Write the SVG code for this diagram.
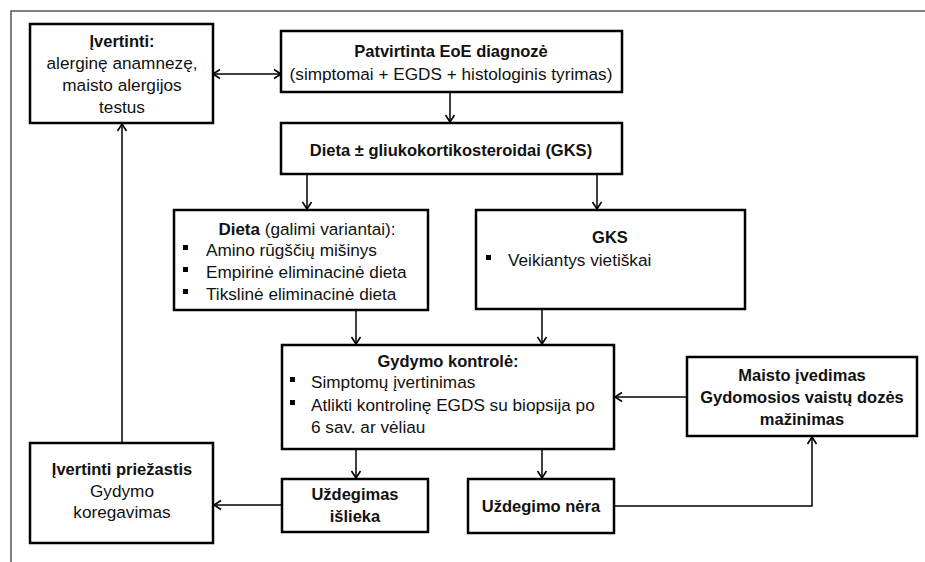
<svg xmlns="http://www.w3.org/2000/svg" width="925" height="562" viewBox="0 0 925 562">
<style>
.box{fill:#fff;stroke:#000;stroke-width:2.5}
.t{font-family:"Liberation Sans",Arial,sans-serif;font-size:17.2px;fill:#111}
.c{text-anchor:middle}
.b{font-weight:bold;font-size:16.5px}
tspan.b{font-size:17px}
.con{fill:none;stroke:#000;stroke-width:1.5}
.bul{fill:#000}
</style>
<defs>
<marker id="ah" markerUnits="userSpaceOnUse" markerWidth="12" markerHeight="12" refX="9" refY="5" orient="auto-start-reverse" viewBox="0 0 12 10">
<path d="M2,0.5 L9,5 L2,9.5" fill="none" stroke="#000" stroke-width="1.6"/>
</marker>
</defs>
<rect width="925" height="562" fill="#fff"/>
<path d="M11,562 V11 H925" fill="none" stroke="#555" stroke-width="1.5"/>

<g id="connectors">
<line class="con" x1="213" y1="74" x2="281" y2="74" marker-start="url(#ah)" marker-end="url(#ah)"/>
<line class="con" x1="450" y1="92" x2="450" y2="122" marker-end="url(#ah)"/>
<line class="con" x1="307" y1="174" x2="307" y2="209" marker-end="url(#ah)"/>
<line class="con" x1="597" y1="174" x2="597" y2="209" marker-end="url(#ah)"/>
<line class="con" x1="356" y1="310" x2="356" y2="344" marker-end="url(#ah)"/>
<line class="con" x1="542" y1="309" x2="542" y2="344" marker-end="url(#ah)"/>
<line class="con" x1="356" y1="449" x2="356" y2="478" marker-end="url(#ah)"/>
<line class="con" x1="542" y1="449" x2="542" y2="478" marker-end="url(#ah)"/>
<line class="con" x1="282" y1="505" x2="214" y2="505" marker-end="url(#ah)"/>
<polyline class="con" points="614,506 812,506 812,437" marker-end="url(#ah)"/>
<line class="con" x1="687" y1="397" x2="615" y2="397" marker-end="url(#ah)"/>
<line class="con" x1="122" y1="443" x2="122" y2="124" marker-end="url(#ah)"/>
</g>

<g id="n-ivertinti">
<rect class="box" x="30" y="24" width="183" height="99"/>
<text class="t c b" x="122" y="47">Įvertinti:</text>
<text class="t c" x="122" y="69">alerginę anamnezę,</text>
<text class="t c" x="122" y="91">maisto alergijos</text>
<text class="t c" x="122" y="113">testus</text>
</g>

<g id="n-diagnoze">
<rect class="box" x="281" y="31" width="341" height="61"/>
<text class="t c b" x="451" y="57">Patvirtinta EoE diagnozė</text>
<text class="t c" x="451" y="80">(simptomai + EGDS + histologinis tyrimas)</text>
</g>

<g id="n-dieta-gks">
<rect class="box" x="281" y="123" width="341" height="51"/>
<text class="t c b" x="451" y="156">Dieta ± gliukokortikosteroidai (GKS)</text>
</g>

<g id="n-dieta">
<rect class="box" x="174" y="210" width="254" height="100"/>
<text class="t c" x="307" y="235"><tspan class="b">Dieta</tspan> (galimi variantai):</text>
<rect class="bul" x="183" y="245" width="5" height="5"/>
<text class="t" x="206" y="256">Amino rūgščių mišinys</text>
<rect class="bul" x="183" y="267" width="5" height="5"/>
<text class="t" x="206" y="278">Empirinė eliminacinė dieta</text>
<rect class="bul" x="183" y="289" width="5" height="5"/>
<text class="t" x="206" y="300">Tikslinė eliminacinė dieta</text>
</g>

<g id="n-gks">
<rect class="box" x="476" y="210" width="269" height="99"/>
<text class="t c b" x="610" y="243">GKS</text>
<rect class="bul" x="486" y="255" width="5" height="5"/>
<text class="t" x="508" y="266">Veikiantys vietiškai</text>
</g>

<g id="n-kontrole">
<rect class="box" x="282" y="345" width="332" height="104"/>
<text class="t c b" x="448" y="367">Gydymo kontrolė:</text>
<rect class="bul" x="290" y="377" width="5" height="5"/>
<text class="t" x="311" y="388">Simptomų įvertinimas</text>
<rect class="bul" x="290" y="400" width="5" height="5"/>
<text class="t" x="311" y="411">Atlikti kontrolinę EGDS su biopsija po</text>
<text class="t" x="311" y="433">6 sav. ar vėliau</text>
</g>

<g id="n-maisto">
<rect class="box" x="687" y="357" width="230" height="79"/>
<text class="t c b" x="802" y="381">Maisto įvedimas</text>
<text class="t c b" x="802" y="403">Gydomosios vaistų dozės</text>
<text class="t c b" x="802" y="425">mažinimas</text>
</g>

<g id="n-islieka">
<rect class="box" x="282" y="479" width="146" height="53"/>
<text class="t c b" x="355" y="500">Uždegimas</text>
<text class="t c b" x="355" y="522">išlieka</text>
</g>

<g id="n-nera">
<rect class="box" x="468" y="479" width="146" height="54"/>
<text class="t c b" x="541" y="512">Uždegimo nėra</text>
</g>

<g id="n-priezastis">
<rect class="box" x="30" y="443" width="183" height="100"/>
<text class="t c b" x="122" y="475">Įvertinti priežastis</text>
<text class="t c" x="122" y="497">Gydymo</text>
<text class="t c" x="122" y="518">koregavimas</text>
</g>
</svg>
